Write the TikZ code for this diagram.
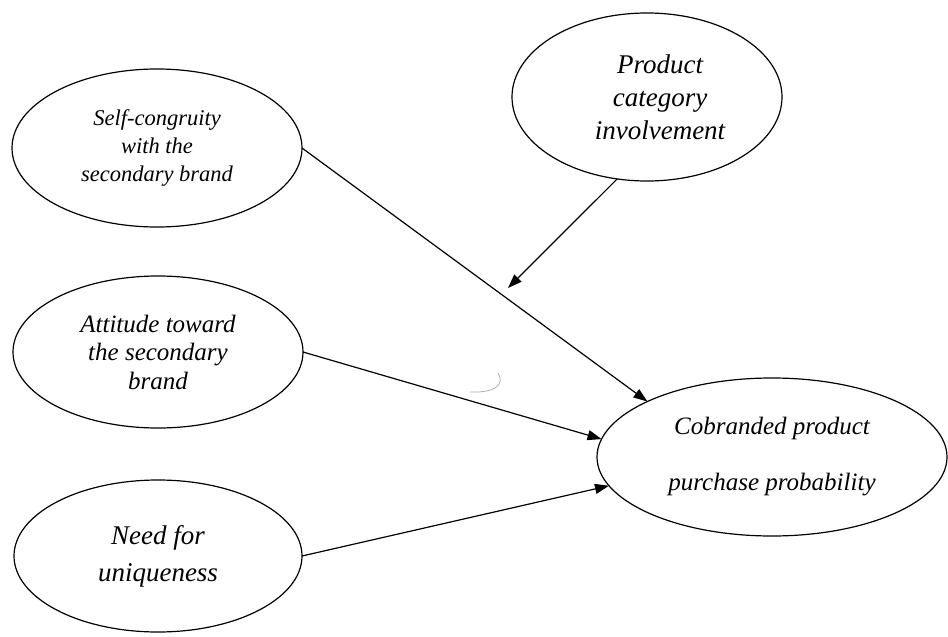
\documentclass[tikz,border=0pt]{standalone}
\usepackage{fontspec}
\setmainfont{Liberation Serif}
\usetikzlibrary{shapes.geometric,arrows.meta}
\begin{document}
\begin{tikzpicture}[x=1pt,y=-1pt,
  construct/.style={ellipse,draw,line width=1.2pt,inner sep=0pt,outer sep=0pt,align=center},
  link/.style={line width=1.2pt,-{Triangle[length=14pt,width=10pt]}}]
\useasboundingbox (0,0) rectangle (948,637);
% constructs
\node[construct,minimum width=290pt,minimum height=158pt,
      font=\fontsize{22.5}{28}\selectfont\itshape] (sc) at (157,148)
  {Self-congruity\\with the\\secondary brand};
% text in this one sits a little right of the centre
\node[construct,minimum width=270pt,minimum height=168pt,
      font=\fontsize{27}{33}\selectfont\itshape] (pc) at (647,97)
  {\hspace*{26pt}Product\\\hspace*{26pt}category\\\hspace*{26pt}involvement};
\node[construct,minimum width=290pt,minimum height=152pt,
      font=\fontsize{25}{28.5}\selectfont\itshape] (at) at (158,352)
  {Attitude toward\\the secondary\\brand};
\node[construct,minimum width=288pt,minimum height=152pt,
      font=\fontsize{27}{37}\selectfont\itshape] (nu) at (158,556)
  {Need for\\uniqueness};
\node[construct,minimum width=350pt,minimum height=158pt,
      font=\fontsize{25}{56}\selectfont\itshape] (cb) at (772,457)
  {Cobranded product\\purchase probability};
% moderating path ends in open space
\coordinate (mod) at (508,288);
% paths
\draw[link] (sc.east) -- (cb.156);
\draw[link] (pc.250) -- (mod);
\draw[link] (at.east) -- (cb.174);
\draw[link] (nu.east) -- (cb.190);
% faint stray stroke
\draw[gray!70,line width=0.7pt] (498,373) .. controls (505,384) and (496,393) .. (470,392);
\end{tikzpicture}
\end{document}
